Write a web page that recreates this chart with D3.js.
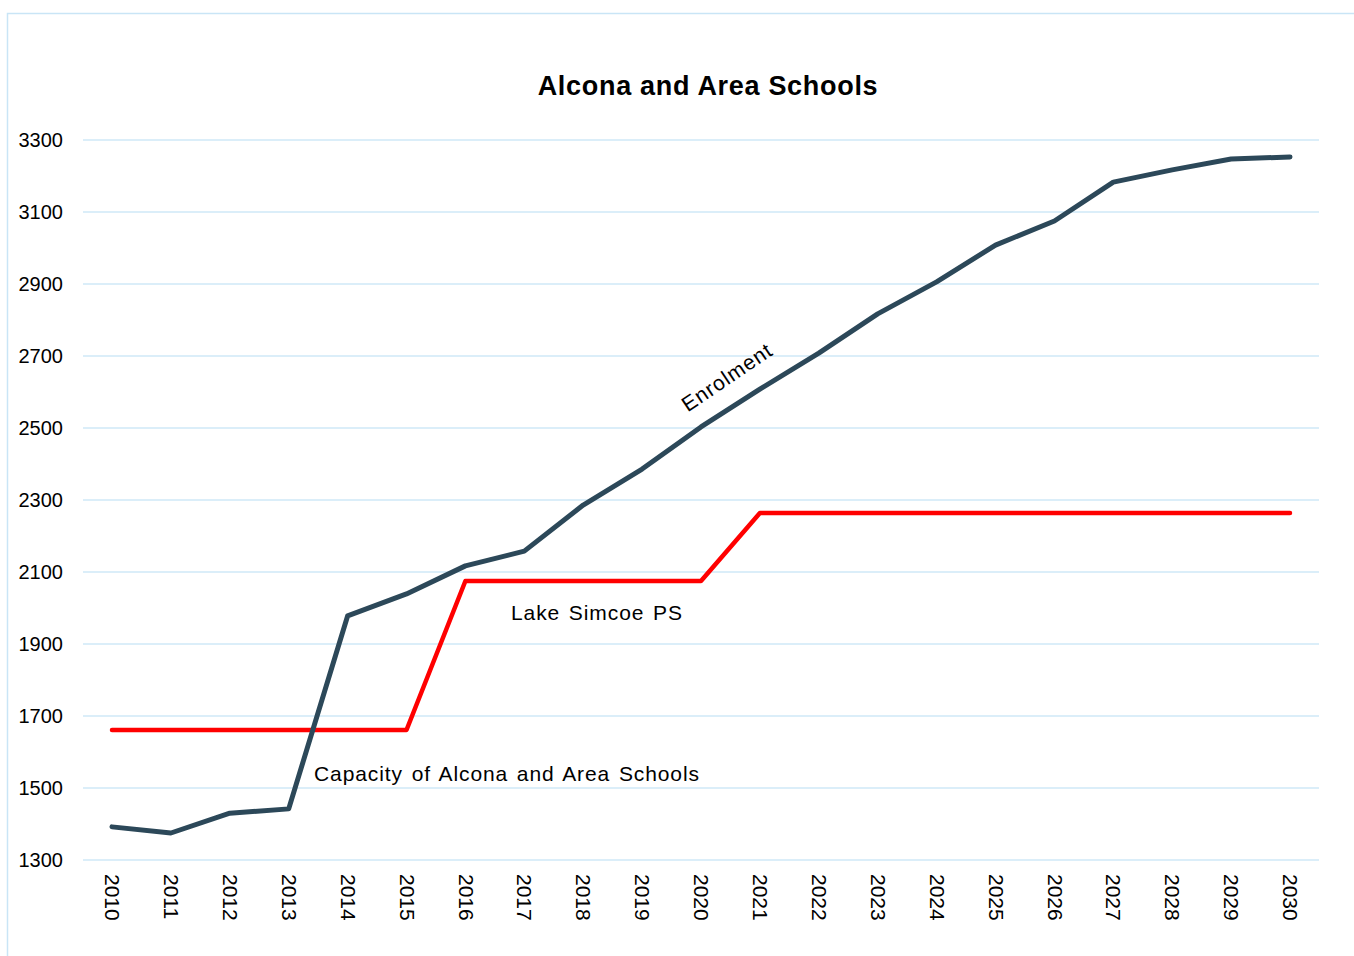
<!DOCTYPE html>
<html>
<head>
<meta charset="utf-8">
<script src="https://cdn.jsdelivr.net/npm/d3@7"></script>
<style>
  body { margin: 0; background: #fff; }
  text { font-family: "Liberation Sans", Arial, sans-serif; }
</style>
</head>
<body>
<script>
// data
var years = [2010, 2011, 2012, 2013, 2014, 2015, 2016, 2017, 2018, 2019, 2020,
             2021, 2022, 2023, 2024, 2025, 2026, 2027, 2028, 2029, 2030];
var enrolment = [1392, 1375, 1430, 1442, 1978, 2039, 2117, 2158, 2286, 2386, 2503,
                 2608, 2708, 2817, 2906, 3008, 3075, 3183, 3217, 3247, 3253];
var capacity = [1661, 1661, 1661, 1661, 1661, 1661, 2075, 2075, 2075, 2075, 2075,
                2264, 2264, 2264, 2264, 2264, 2264, 2264, 2264, 2264, 2264];
var yTicks = [1300, 1500, 1700, 1900, 2100, 2300, 2500, 2700, 2900, 3100, 3300];

var W = 1354, H = 956;

var svg = d3.select("body")
  .append("svg")
  .attr("width", W)
  .attr("height", H);

// chart border
svg.append("rect")
  .attr("x", 7.5).attr("y", 13.5)
  .attr("width", W + 10).attr("height", H)
  .attr("fill", "none")
  .attr("stroke", "#c9e5f6")
  .attr("stroke-width", 1.5);

// scales
var x = d3.scalePoint()
  .domain(years)
  .range([112, 1290]);

var y = d3.scaleLinear()
  .domain([1300, 3300])
  .range([860, 140]);

// gridlines
svg.append("g")
  .selectAll("line")
  .data(yTicks)
  .enter().append("line")
    .attr("x1", 83).attr("x2", 1319)
    .attr("y1", function(d) { return y(d); })
    .attr("y2", function(d) { return y(d); })
    .attr("stroke", "#cfe8f7")
    .attr("stroke-width", 1.5);

// y axis labels
var yAxis = svg.append("g")
  .attr("transform", "translate(83,0)")
  .call(d3.axisLeft(y).tickValues(yTicks).tickSize(0).tickPadding(20).tickFormat(d3.format("d")));
yAxis.select(".domain").remove();
yAxis.selectAll("text")
  .attr("font-size", 20)
  .attr("fill", "#000")
  .style("font-family", "'Liberation Sans', Arial, sans-serif");

// x axis labels, rotated
var xAxis = svg.append("g")
  .attr("transform", "translate(0,860)")
  .call(d3.axisBottom(x).tickSize(0).tickFormat(d3.format("d")));
xAxis.select(".domain").remove();
xAxis.selectAll("text")
  .attr("font-size", 21)
  .attr("fill", "#000")
  .style("font-family", "'Liberation Sans', Arial, sans-serif")
  .attr("text-anchor", "start")
  .attr("dy", "0.35em")
  .attr("transform", "translate(0,14) rotate(90)")
  .attr("x", 0).attr("y", 0);

// lines
var line = d3.line()
  .x(function(d, i) { return x(years[i]); })
  .y(function(d) { return y(d); });

svg.append("path")
  .datum(capacity)
  .attr("fill", "none")
  .attr("stroke", "#ff0000")
  .attr("stroke-width", 4.5)
  .attr("stroke-linecap", "round")
  .attr("stroke-linejoin", "round")
  .attr("d", line);

svg.append("path")
  .datum(enrolment)
  .attr("fill", "none")
  .attr("stroke", "#2c4859")
  .attr("stroke-width", 5)
  .attr("stroke-linecap", "round")
  .attr("stroke-linejoin", "round")
  .attr("d", line);

// title
svg.append("text")
  .attr("x", 708).attr("y", 95)
  .attr("text-anchor", "middle")
  .attr("font-size", 27)
  .attr("letter-spacing", 0.7)
  .attr("font-weight", "bold")
  .text("Alcona and Area Schools");

// annotations
svg.append("text")
  .attr("x", 511).attr("y", 620)
  .attr("font-size", 21)
  .attr("letter-spacing", 0.9)
  .attr("word-spacing", 2)
  .text("Lake Simcoe PS");

svg.append("text")
  .attr("x", 314).attr("y", 781)
  .attr("font-size", 21)
  .attr("letter-spacing", 0.9)
  .attr("word-spacing", 2)
  .text("Capacity of Alcona and Area Schools");

svg.append("text")
  .attr("transform", "translate(727,377) rotate(-34)")
  .attr("text-anchor", "middle")
  .attr("dy", "0.35em")
  .attr("font-size", 21)
  .attr("letter-spacing", 1)
  .text("Enrolment");
</script>
</body>
</html>
